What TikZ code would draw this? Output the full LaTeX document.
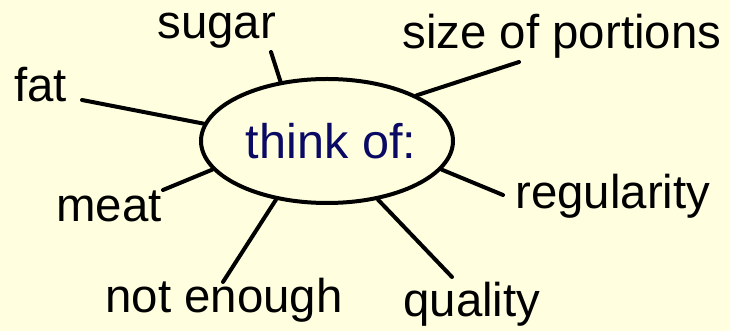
\documentclass[tikz,border=0pt]{standalone}
\usepackage{fontspec}
\setmainfont{Liberation Sans}
\usetikzlibrary{shapes.geometric}
\definecolor{bgyellow}{RGB}{255,255,224}
\definecolor{thinkblue}{RGB}{10,10,100}

\begin{document}
\begin{tikzpicture}[x=0.5pt,y=-0.5pt,
    lbl/.style={anchor=base west,inner sep=0pt,font=\fontsize{23.7}{28}\selectfont},
    spoke/.style={line width=2pt,line cap=round}]
    \fill[bgyellow] (0,0) rectangle (730,331);
    \useasboundingbox (0,0) rectangle (730,331);
    % centre
    \node[draw,ellipse,line width=2pt,minimum width=126pt,minimum height=62pt,
          inner sep=0pt,text=thinkblue,font=\fontsize{24.3}{28}\selectfont] (thk) at (327,141) {\hspace{4pt}think of:};
    % words round it
    \node[lbl] (sugar) at (157,39) {sugar};
    \node[lbl] (fat) at (14,102) {fat};
    \node[lbl] (portions) at (402,49) {size of portions};
    \node[lbl] (regularity) at (515,209) {regularity};
    \node[lbl] (quality) at (403,317) {quality};
    \node[lbl] (notenough) at (105,313) {not enough};
    \node[lbl] (meat) at (56,222) {meat};
    % free ends of the spokes
    \coordinate (sugar-e) at (271,52);
    \coordinate (fat-e) at (82,100);
    \coordinate (portions-e) at (519,62);
    \coordinate (regularity-e) at (503,195);
    \coordinate (quality-e) at (452,277);
    \coordinate (notenough-e) at (223,282);
    \coordinate (meat-e) at (163,190);
    \foreach \a/\e in {128/sugar,172/fat,27.6/portions,346/regularity,311/quality,229/notenough,194.5/meat}
        \draw[spoke] (thk.\a) -- (\e-e);
\end{tikzpicture}
\end{document}
